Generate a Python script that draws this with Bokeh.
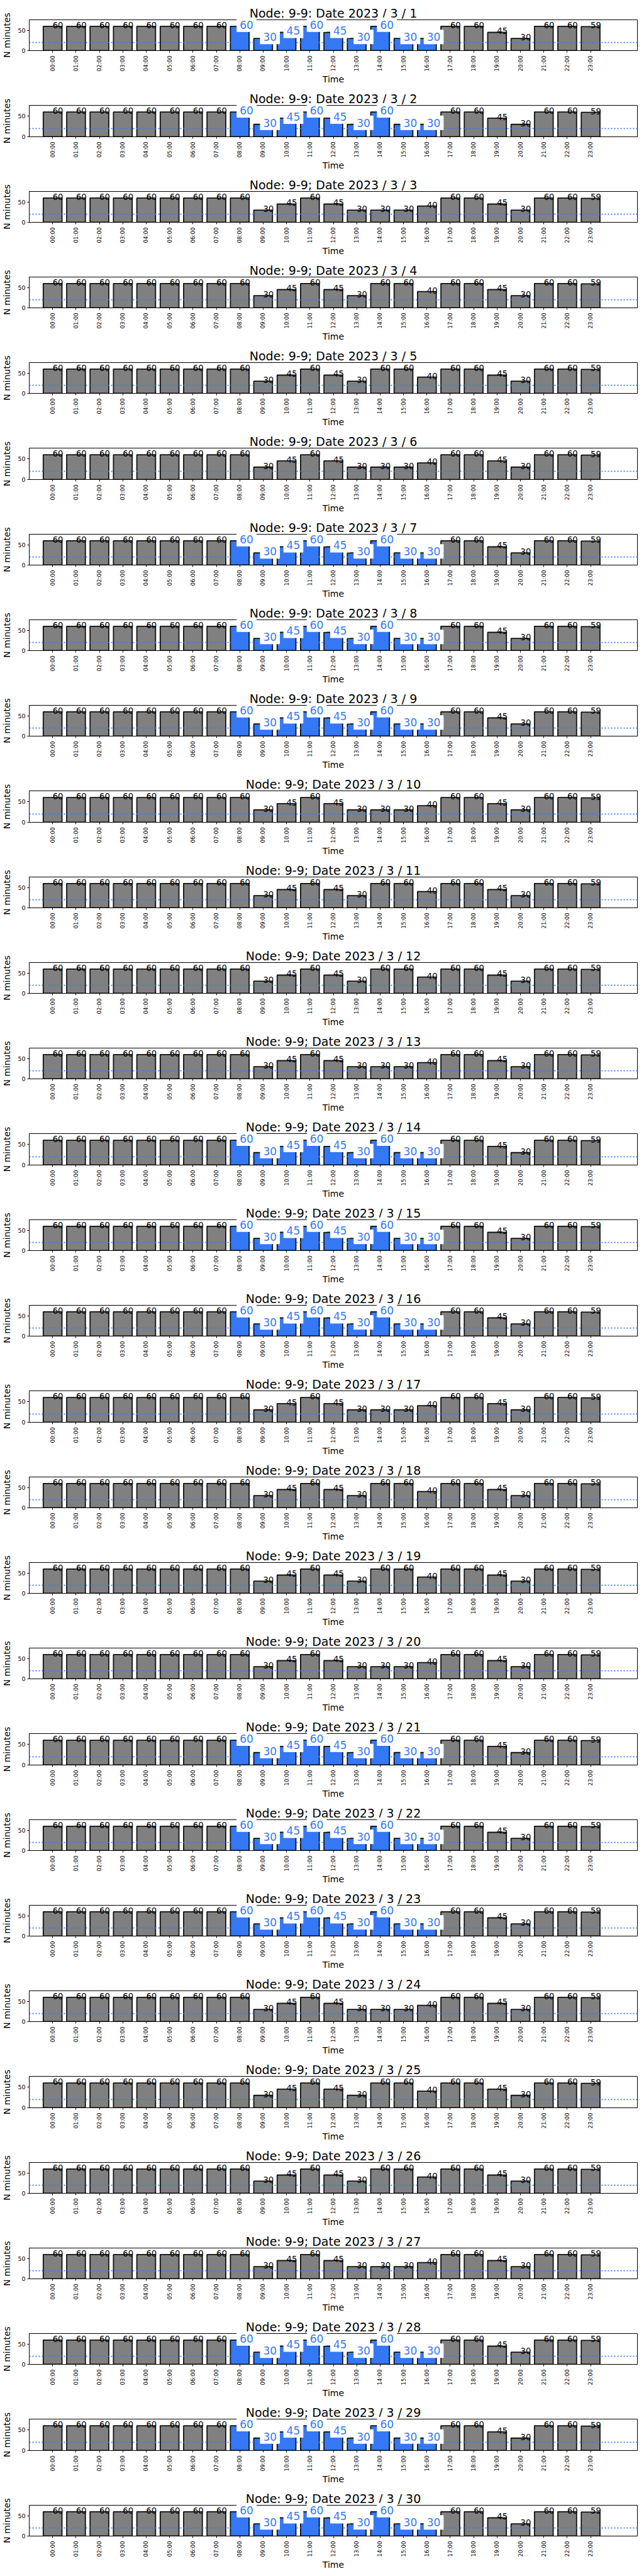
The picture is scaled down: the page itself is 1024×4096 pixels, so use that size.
import math
from bokeh.plotting import figure
from bokeh.models import ColumnDataSource, Range1d, FixedTicker
from bokeh.layouts import column
from bokeh.core.properties import value
from bokeh.embed import file_html
from bokeh.resources import INLINE

# ---------------- data ----------------
hours = ["00:00", "01:00", "02:00", "03:00", "04:00", "05:00", "06:00", "07:00",
         "08:00", "09:00", "10:00", "11:00", "12:00", "13:00", "14:00", "15:00",
         "16:00", "17:00", "18:00", "19:00", "20:00", "21:00", "22:00", "23:00"]

days = list(range(1, 31))

# minutes per hour, three observed daily profiles
minutes_highlight_day = [60, 60, 60, 60, 60, 60, 60, 60, 60, 30, 45, 60,
                         45, 30, 60, 30, 30, 60, 60, 45, 30, 60, 60, 59]
minutes_weekday = [60, 60, 60, 60, 60, 60, 60, 60, 60, 30, 45, 60,
                   45, 30, 30, 30, 40, 60, 60, 45, 30, 60, 60, 59]
minutes_weekend = [60, 60, 60, 60, 60, 60, 60, 60, 60, 30, 45, 60,
                   45, 30, 60, 60, 40, 60, 60, 45, 30, 60, 60, 59]

# profile of each day of March 2023
day_profile = ["H", "H", "D", "E", "E", "D", "H", "H", "H", "D",
               "E", "E", "D", "H", "H", "H", "D", "E", "E", "D",
               "H", "H", "H", "D", "E", "E", "D", "H", "H", "H"]

highlight_hours = ["08:00", "09:00", "10:00", "11:00", "12:00",
                   "13:00", "14:00", "15:00", "16:00"]

threshold = 20
y_ticks = [0, 50]
y_max = 76

profiles = {"H": minutes_highlight_day, "D": minutes_weekday, "E": minutes_weekend}

# ---------------- style ----------------
BLUE = "#3478F6"
GRAY = "#808080"
FONT = value("DejaVu Sans")
DESC = 0.236          # DejaVu Sans descent (em)
W = 1016
TOTAL_H = 4088
FRAME_TOP = 31
FRAME_H = 54
FS_GRAY = 13.2
FS_BLUE = 17
PAD = 5


def make_fig(k, h):
    day = days[k]
    vals = profiles[day_profile[k]]
    highlighted = day_profile[k] == "H"
    xs = list(range(len(hours)))
    is_blue = [highlighted and hr in highlight_hours for hr in hours]
    colors = [BLUE if b else GRAY for b in is_blue]

    bar_src = ColumnDataSource(dict(x=xs, v=vals, c=colors))
    gray_src = ColumnDataSource(dict(
        x=[x for x, b in zip(xs, is_blue) if not b],
        v=[v for v, b in zip(vals, is_blue) if not b],
        t=[str(v) for v, b in zip(vals, is_blue) if not b]))
    blue_src = ColumnDataSource(dict(
        x=[x for x, b in zip(xs, is_blue) if b],
        v=[v for v, b in zip(vals, is_blue) if b],
        t=[str(v) for v, b in zip(vals, is_blue) if b]))

    p = figure(width=W, height=h,
               x_range=Range1d(-1, len(hours) + 1), y_range=Range1d(0, y_max),
               output_backend="svg", toolbar_location=None,
               title=f"Node: 9-9; Date 2023 / 3 / {day}",
               min_border_left=46, min_border_right=3,
               min_border_top=FRAME_TOP, min_border_bottom=h - FRAME_TOP - FRAME_H)
    p.title.text_font = "DejaVu Sans"
    p.title.text_font_size = "19px"
    p.title.text_font_style = "normal"
    p.title.text_color = "black"
    p.title.align = "center"
    p.title.standoff = 0
    p.title.offset = 0

    p.background_fill_color = "white"
    p.border_fill_color = "white"
    p.outline_line_color = "black"
    p.outline_line_width = 1
    p.outline_line_alpha = 1
    p.xgrid.visible = False
    p.ygrid.visible = False

    p.vbar(x="x", top="v", bottom=0, width=0.8, source=bar_src,
           fill_color="c", line_color="#111111", line_width=1.8)

    # dotted reference line, drawn above the bars
    p.segment(x0=[-1], x1=[len(hours) + 1], y0=[threshold], y1=[threshold],
              line_color=BLUE, line_dash="2 3", line_width=1.7, level="overlay")

    p.text(x="x", y="v", text="t", source=gray_src, text_font=FONT,
           text_font_size=f"{FS_GRAY}px", anchor="bottom_left",
           text_align="left", text_baseline="bottom",
           x_offset=0, y_offset=round(DESC * FS_GRAY),
           text_color="black", level="overlay")
    if len(blue_src.data["x"]):
        p.text(x="x", y="v", text="t", source=blue_src, text_font=FONT,
               text_font_size=f"{FS_BLUE}px", anchor="bottom_left",
               text_align="left", text_baseline="bottom",
               x_offset=-PAD, y_offset=round(PAD + DESC * FS_BLUE),
               text_color=BLUE, background_fill_color="white", padding=PAD,
               level="overlay")

    # x axis
    xa = p.xaxis[0]
    xa.ticker = FixedTicker(ticks=xs)
    xa.major_label_overrides = {i: hours[i] for i in xs}
    xa.major_label_orientation = math.pi / 2
    xa.major_label_text_font = "DejaVu Sans"
    xa.major_label_text_font_size = "8.7px"
    xa.major_label_text_color = "black"
    xa.major_label_standoff = 5
    xa.major_tick_out = 3
    xa.major_tick_in = 0
    xa.minor_tick_out = 0
    xa.minor_tick_in = 0
    xa.axis_label = "Time"
    xa.axis_label_text_font = "DejaVu Sans"
    xa.axis_label_text_font_size = "14px"
    xa.axis_label_text_font_style = "normal"
    xa.axis_label_text_color = "black"
    xa.axis_label_standoff = 1
    xa.axis_line_color = "black"
    xa.major_tick_line_color = "black"

    # y axis
    ya = p.yaxis[0]
    ya.ticker = FixedTicker(ticks=y_ticks)
    ya.major_label_text_font = "DejaVu Sans"
    ya.major_label_text_font_size = "9.5px"
    ya.major_label_text_color = "black"
    ya.major_label_standoff = 3
    ya.major_tick_out = 3
    ya.major_tick_in = 0
    ya.minor_tick_out = 0
    ya.minor_tick_in = 0
    ya.axis_label = "N minutes"
    ya.axis_label_text_font = "DejaVu Sans"
    ya.axis_label_text_font_size = "14px"
    ya.axis_label_text_font_style = "normal"
    ya.axis_label_text_color = "black"
    ya.axis_label_standoff = 6
    ya.axis_line_color = "black"
    ya.major_tick_line_color = "black"
    return p


N = len(days)
figs = []
for k in range(N):
    h = round(TOTAL_H * (k + 1) / N) - round(TOTAL_H * k / N)
    figs.append(make_fig(k, h))

layout = column(*figs, spacing=0)
open("out.html", "w").write(file_html(layout, INLINE))
